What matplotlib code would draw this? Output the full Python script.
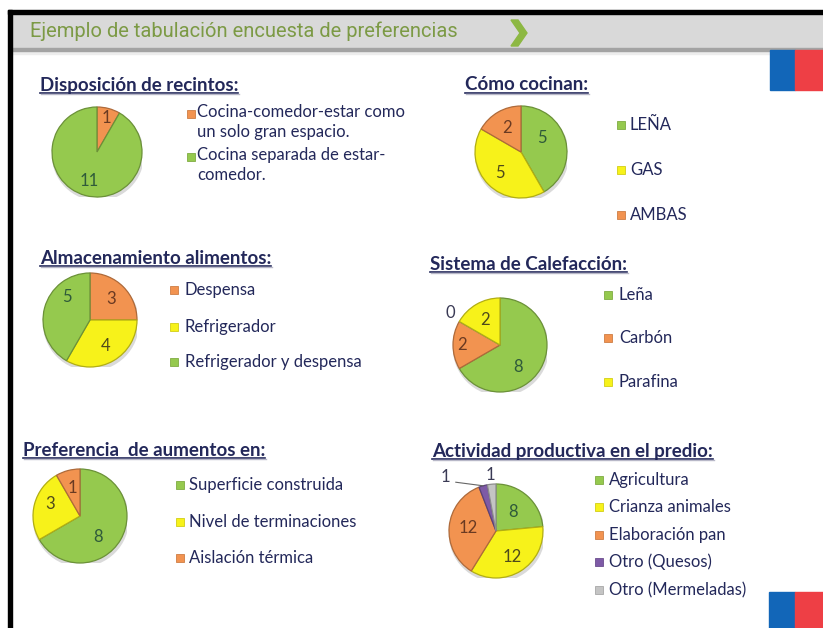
# -*- coding: utf-8 -*-
import numpy as np
import matplotlib
matplotlib.use("Agg")
import matplotlib.pyplot as plt
from matplotlib.patches import Rectangle, Polygon, Circle
from matplotlib.colors import to_rgb

W, H = 823, 628

titulo = "Ejemplo de tabulación encuesta de preferencias"

recintos_titulo = "Disposición de recintos:"
recintos_cat = ["Cocina-comedor-estar como\nun solo gran espacio.",
                "Cocina separada de estar-\ncomedor."]
recintos_val = [1, 11]

cocinan_titulo = "Cómo cocinan:"
cocinan_cat = ["LEÑA", "GAS", "AMBAS"]
cocinan_val = [5, 5, 2]

almacen_titulo = "Almacenamiento alimentos:"
almacen_cat = ["Despensa", "Refrigerador", "Refrigerador y despensa"]
almacen_val = [3, 4, 5]

calef_titulo = "Sistema de Calefacción:"
calef_cat = ["Leña", "Carbón", "", "Parafina"]   # categoria sin nombre con 0
calef_val = [8, 2, 0, 2]

aumentos_titulo = "Preferencia  de aumentos en:"
aumentos_cat = ["Superficie construida", "Nivel de terminaciones", "Aislación térmica"]
aumentos_val = [8, 3, 1]

actividad_titulo = "Actividad productiva en el predio:"
actividad_cat = ["Agricultura", "Crianza animales", "Elaboración pan",
                 "Otro (Quesos)", "Otro (Mermeladas)"]
actividad_val = [8, 12, 12, 1, 1]

# colores
VERDE = "#95C94E"
AMARILLO = "#F7F21A"
NARANJA = "#F29350"
MORADO = "#7E5AA6"
GRIS = "#C4C4C4"
AZUL_TXT = "#23285A"
color_txt = {VERDE: "#2F5A3A", AMARILLO: "#4F4A1A", NARANJA: "#6A3A22",
             MORADO: "#2A2A4A", GRIS: "#2A2A4A"}

FUENTE = ["Lato", "DejaVu Sans"]

fig = plt.figure(figsize=(W / 100, H / 100), dpi=100)
bg = fig.add_axes([0, 0, 1, 1])
bg.set_xlim(0, W)
bg.set_ylim(H, 0)
bg.axis("off")

# marco y encabezado
bg.add_patch(Rectangle((8, 10), W - 8, 4, color="black", zorder=3))
bg.add_patch(Rectangle((8, 10), 4, H - 10, color="black", zorder=3))
bg.add_patch(Rectangle((12, 14), W - 12, 35, color="#D9D9D9", zorder=1))
bg.add_patch(Rectangle((12, 48), W - 12, 2.5, color="#A3A3A3", zorder=2))
bg.add_patch(Rectangle((12, 50.5), W - 12, 3, color="#EDEDED", zorder=1))
bg.text(30, 31, titulo, color="#7C9A45", fontsize=14.5,
        family=["Roboto", "DejaVu Sans"], va="center", ha="left")
bg.add_patch(Polygon([(511, 20), (518, 20), (527, 33), (518, 46), (511, 46), (520, 33)],
                     closed=True, color="#8DB843", zorder=3))

# banderas
bg.add_patch(Rectangle((770, 50), 25, 40, color="#1266B8", zorder=2))
bg.add_patch(Rectangle((795, 50), 28, 40, color="#EE3F45", zorder=2))
bg.add_patch(Rectangle((769, 592), 26, 36, color="#1266B8", zorder=2))
bg.add_patch(Rectangle((795, 592), 28, 36, color="#EE3F45", zorder=2))

titulos = []


def oscuro(c, f=0.72):
    return tuple(np.array(to_rgb(c)) * f)


def pastel(cx, cy, r, valores, colores, dist, giro=None, fuera=None, guia=None):
    ax = fig.add_axes([(cx - r) / W, 1 - (cy + r) / H, 2 * r / W, 2 * r / H])
    ax.add_patch(Circle((0.02, -0.06), 1.01, color="#DADADA", zorder=0))
    cunas, _ = ax.pie(valores, colors=colores, startangle=90, counterclock=False,
                      radius=1, wedgeprops=dict(linewidth=0.9))
    for w, c in zip(cunas, colores):
        w.set_edgecolor(oscuro(c))
    ax.set_xlim(-1, 1)
    ax.set_ylim(-1, 1)
    ax.axis("off")
    giro = giro or [0] * len(valores)
    fuera = fuera or []
    for i, (w, v, c) in enumerate(zip(cunas, valores, colores)):
        a = np.deg2rad((w.theta1 + w.theta2) / 2 + giro[i])
        x, y = dist[i] * np.cos(a), dist[i] * np.sin(a)
        col = "#3A3A55" if i in fuera else color_txt[c]
        ax.text(x, y, str(v), ha="center", va="center", fontsize=12,
                color=col, family=FUENTE, clip_on=False)
        if guia is not None and i == guia:
            am = np.deg2rad((w.theta1 + w.theta2) / 2)
            ax.plot([np.cos(am), x + 0.22], [np.sin(am), y - 0.12],
                    color="#666666", lw=0.8, clip_on=False)
    return ax


def leyenda(mx, tx, ys, nombres, colores):
    for y, n, c in zip(ys, nombres, colores):
        if not n:
            continue
        bg.add_patch(Rectangle((mx, y - 4), 8, 8, facecolor=c,
                               edgecolor=oscuro(c, 0.85), lw=0.6, zorder=3))
        if "\n" in n:
            bg.text(tx, y - 10, n, ha="left", va="top", fontsize=12,
                    color=AZUL_TXT, family=FUENTE, linespacing=1.3)
        else:
            bg.text(tx, y, n, ha="left", va="center", fontsize=12,
                    color=AZUL_TXT, family=FUENTE)


def titular(x, y, s):
    t = bg.text(x, y, s, ha="left", va="center", fontsize=13.5, fontweight="bold",
                color=AZUL_TXT, family=FUENTE)
    titulos.append(t)


# 1 Disposición de recintos
titular(40, 85, recintos_titulo)
pastel(97, 152, 45, recintos_val, [NARANJA, VERDE], [0.78, 0.66])
leyenda(187, 197, [114, 157], recintos_cat, [NARANJA, VERDE])

# 2 Cómo cocinan
titular(465, 85, cocinan_titulo)
pastel(521, 152, 46, cocinan_val, [VERDE, AMARILLO, NARANJA], [0.55, 0.65, 0.6],
       giro=[18, 0, 0])
leyenda(617, 630, [125, 170, 215], cocinan_cat, [VERDE, AMARILLO, NARANJA])

# 3 Almacenamiento alimentos
titular(40, 258, almacen_titulo)
pastel(90, 320, 47, almacen_val, [NARANJA, AMARILLO, VERDE], [0.63, 0.65, 0.68],
       giro=[0, 0, -30])
leyenda(170, 185, [290, 327, 362], almacen_cat, [NARANJA, AMARILLO, VERDE])

# 4 Sistema de Calefacción
titular(430, 264, calef_titulo)
pastel(500, 345, 47, calef_val, [VERDE, NARANJA, GRIS, AMARILLO],
       [0.6, 0.8, 1.25, 0.62], giro=[-20, 0, -3, 0], fuera=[2])
leyenda(604, 619, [295, 338, 0, 382], calef_cat, [VERDE, NARANJA, GRIS, AMARILLO])

# 5 Preferencia de aumentos
titular(23, 450, aumentos_titulo)
pastel(80, 516, 47, aumentos_val, [VERDE, AMARILLO, NARANJA], [0.59, 0.68, 0.62],
       giro=[-19, -8, 0])
leyenda(176, 189, [485, 522, 558], aumentos_cat, [VERDE, AMARILLO, NARANJA])

# 6 Actividad productiva
titular(432, 451, actividad_titulo)
pastel(496, 531, 47, actividad_val, [VERDE, AMARILLO, NARANJA, MORADO, GRIS],
       [0.55, 0.65, 0.6, 1.58, 1.2], giro=[0, 0, 0, 27, 0], fuera=[3, 4], guia=3)
leyenda(595, 609, [480, 507, 535, 562, 590], actividad_cat,
        [VERDE, AMARILLO, NARANJA, MORADO, GRIS])

# subrayado de los titulos
fig.canvas.draw()
rend = fig.canvas.get_renderer()
inv = bg.transData.inverted()
for t in titulos:
    bb = t.get_window_extent(rend)
    (x0, y0), (x1, y1) = inv.transform([(bb.x0, bb.y0), (bb.x1, bb.y1)])
    bg.plot([x0, x1], [y0 - 1, y0 - 1], color=AZUL_TXT, lw=1.2)
    bg.plot([x0 + 1, x1 + 1], [y0 + 0.8, y0 + 0.8], color="#B8B8C8", lw=1.0)

fig.savefig("out.png", dpi=100)
